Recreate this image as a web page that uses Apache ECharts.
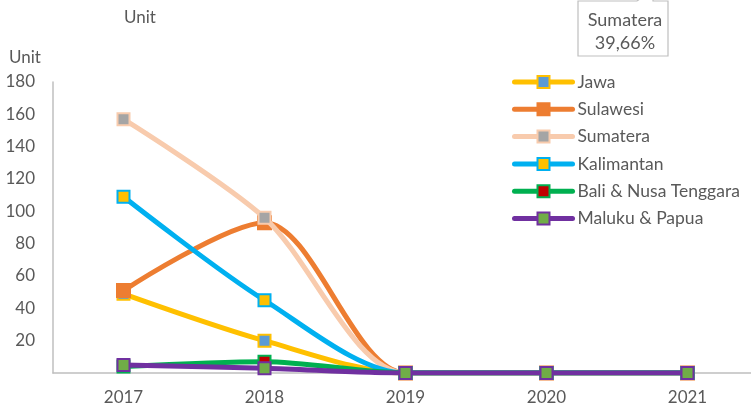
<!DOCTYPE html>
<html><head><meta charset="utf-8">
<script src="https://cdn.jsdelivr.net/npm/echarts@6/dist/echarts.min.js"></script>
<style>html,body{margin:0;padding:0;background:#fff}#c{width:751px;height:406px}</style>
</head><body><div id="c"></div>
<script>
var years = ['2017','2018','2019','2020','2021'];
var jawa = [49, 20, 0, 0, 0];
var sulawesi = [51, 93, 0, 0, 0];
var sumatera = [157, 96, 0, 0, 0];
var kalimantan = [109, 45, 0, 0, 0];
var bali = [4, 7, 0, 0, 0];
var maluku = [5, 3, 0, 0, 0];
var seriesNames = ['Jawa','Sulawesi','Sumatera','Kalimantan','Bali & Nusa Tenggara','Maluku & Papua'];
var yTicks = {min: 0, max: 180, interval: 20};
var calloutLines = ['Sumatera', '39,66%'];

var styles = [
  {line:'#FFC000', fill:'#5B9BD5', border:'#FFC000', size:12},
  {line:'#ED7D31', fill:'#ED7D31', border:'#ED7D31', size:13},
  {line:'#F8CBAD', fill:'#A5A5A5', border:'#F8CBAD', size:12},
  {line:'#00B0F0', fill:'#FFC000', border:'#00B0F0', size:12},
  {line:'#00B050', fill:'#C00000', border:'#00B050', size:12},
  {line:'#7030A0', fill:'#70AD47', border:'#7030A0', size:12}
];
var data = [jawa, sulawesi, sumatera, kalimantan, bali, maluku];
var font = 'Lato, "Open Sans", sans-serif';
var txt = '#595959';

var series = data.map(function(d, i){
  var s = styles[i];
  return {
    name: seriesNames[i], type: 'line', data: d, smooth: 0.3,
    symbol: 'rect', symbolSize: s.size,
    lineStyle: {color: s.line, width: 5},
    itemStyle: {color: s.fill, borderColor: s.border, borderWidth: 2},
    z: 2 + i, animation: false
  };
});

var chart = echarts.init(document.getElementById('c'));
chart.setOption({
  animation: false,
  grid: {left: 53, width: 705, top: 82, bottom: 33, outerBoundsMode: 'none', containLabel: false},
  legend: {
    orient: 'vertical', left: 507, top: 68, itemWidth: 58, itemHeight: 15, itemGap: 9.3,
    lineStyle: {width: 5, cap: 'round'},
    textStyle: {fontFamily: font, fontSize: 17.5, color: txt},
    data: seriesNames
  },
  xAxis: {
    type: 'category', data: years, boundaryGap: true,
    axisLine: {lineStyle: {color: '#BFBFBF', width: 1.5}},
    axisTick: {show: false},
    axisLabel: {fontFamily: font, fontSize: 17, color: txt, margin: 16}
  },
  yAxis: {
    type: 'value', min: yTicks.min, max: yTicks.max, interval: yTicks.interval,
    axisLine: {show: true, lineStyle: {color: '#BFBFBF', width: 1.5}},
    axisTick: {show: false},
    splitLine: {show: false},
    axisLabel: {fontFamily: font, fontSize: 17, color: txt, margin: 18,
      formatter: function(v){ return v === 0 ? '' : v; }}
  },
  graphic: [
    {type: 'text', x: 124, y: 18, style: {text: 'Unit', font: '17px ' + font, fill: txt, verticalAlign: 'middle'}},
    {type: 'text', x: 9, y: 58, style: {text: 'Unit', font: '17px ' + font, fill: txt, verticalAlign: 'middle'}},
    {type: 'polyline', shape: {points: [[637,1],[578,1],[578,56],[668,56],[668,1],[653,1],[653,-3]]},
      style: {stroke: '#BFBFBF', fill: null, lineWidth: 1.2}},
    {type: 'line', shape: {x1: 637, y1: 1, x2: 644, y2: -4}, style: {stroke: '#BFBFBF', lineWidth: 1.2}},
    {type: 'text', x: 625, y: 20, style: {text: calloutLines[0], font: '18px ' + font, fill: txt, align: 'center', verticalAlign: 'middle'}},
    {type: 'text', x: 625, y: 43, style: {text: calloutLines[1], font: '18px ' + font, fill: txt, align: 'center', verticalAlign: 'middle'}}
  ],
  series: series
});
</script></body></html>
